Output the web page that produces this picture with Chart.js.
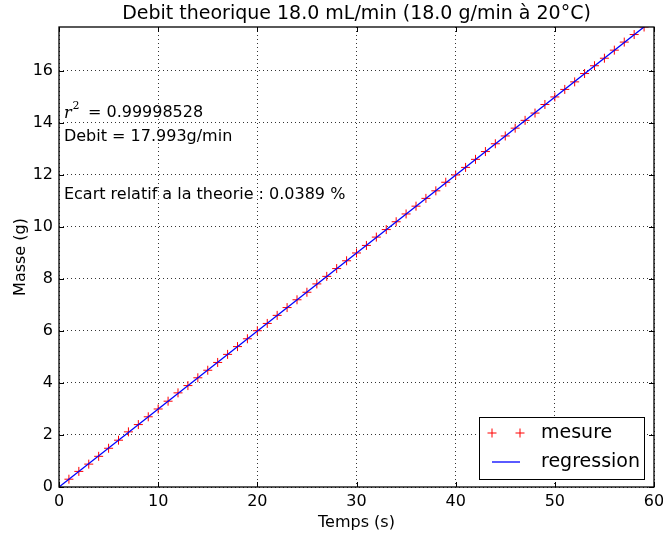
<!DOCTYPE html>
<html>
<head>
<meta charset="utf-8">
<script src="https://cdn.jsdelivr.net/npm/chart.js@4/dist/chart.umd.min.js"></script>
<style>
html,body{margin:0;padding:0;background:#fff;}
#wrap{width:663px;height:538px;}
</style>
</head>
<body>
<div id="wrap"><canvas id="c" width="663" height="538"></canvas></div>
<script>
// ---- data ----
const titleText = "Debit theorique 18.0 mL/min (18.0 g/min à 20°C)";
const xLabel = "Temps (s)";
const yLabel = "Masse (g)";
const times = [1,2,3,4,5,6,7,8,9,10,11,12,13,14,15,16,17,18,19,20,21,22,23,24,25,26,27,28,29,30,31,32,33,34,35,36,37,38,39,40,41,42,43,44,45,46,47,48,49,50,51,52,53,54,55,56,57,58,59];
const masses = [0.30,0.60,0.88,1.18,1.49,1.80,2.12,2.40,2.70,3.00,3.30,3.62,3.90,4.20,4.49,4.79,5.10,5.40,5.70,6.01,6.29,6.60,6.90,7.20,7.49,7.81,8.10,8.40,8.70,9.00,9.29,9.61,9.90,10.20,10.50,10.80,11.10,11.39,11.72,12.00,12.29,12.60,12.90,13.20,13.50,13.80,14.10,14.38,14.71,15.00,15.29,15.58,15.90,16.20,16.49,16.80,17.11,17.40,17.69];
const regTimes = [0, 60];
const regMasses = [0, 17.993];
const seriesNames = ["mesure", "regression"];
const xTicks = [0,10,20,30,40,50,60];
const yTicks = [0,2,4,6,8,10,12,14,16];
const xRange = [0, 60];
const yRange = [0, 17.69];
const r2Value = "= 0.99998528";
const debitText = "Debit = 17.993g/min";
const ecartText = "Ecart relatif a la theorie : 0.0389 %";
const annotX = 0.5;
const annotY = [14.40, 13.47, 11.23];

// ---- chart ----
Chart.defaults.font.family = "'DejaVu Sans', sans-serif";
Chart.defaults.color = "#000";

const mesurePts = times.map((t,i)=>({x:t, y:masses[i]}));
const regPts = regTimes.map((t,i)=>({x:t, y:regMasses[i]}));

const framePlugin = {
  id: 'frame',
  beforeDraw(chart){
    const ctx = chart.ctx;
    ctx.save(); ctx.fillStyle = '#fff'; ctx.fillRect(0,0,chart.width,chart.height); ctx.restore();
  },
  afterDatasetsDraw(chart){
    const ctx = chart.ctx, a = chart.chartArea;
    const xs = chart.scales.x, ys = chart.scales.y;
    ctx.save();
    // inward ticks
    ctx.strokeStyle = '#000'; ctx.lineWidth = 1;
    const L = 5;
    xTicks.forEach(v=>{
      const px = Math.round(xs.getPixelForValue(v)) + 0.5;
      ctx.beginPath();
      ctx.moveTo(px, a.bottom); ctx.lineTo(px, a.bottom - L);
      ctx.moveTo(px, a.top); ctx.lineTo(px, a.top + L);
      ctx.stroke();
    });
    yTicks.forEach(v=>{
      const py = Math.round(ys.getPixelForValue(v)) + 0.5;
      ctx.beginPath();
      ctx.moveTo(a.left, py); ctx.lineTo(a.left + L, py);
      ctx.moveTo(a.right, py); ctx.lineTo(a.right - L, py);
      ctx.stroke();
    });
    // frame
    ctx.lineWidth = 1.3;
    ctx.strokeRect(a.left, a.top, a.right - a.left, a.bottom - a.top);

    // annotations
    const ax = xs.getPixelForValue(annotX);
    ctx.fillStyle = '#000';
    ctx.textBaseline = 'middle';
    ctx.textAlign = 'left';
    let y0 = ys.getPixelForValue(annotY[0]);
    ctx.font = "italic 16px 'DejaVu Serif', serif";
    ctx.fillText("r", ax, y0 + 1);
    const rw = ctx.measureText("r").width;
    ctx.font = "11px 'DejaVu Serif', serif";
    ctx.fillText("2", ax + rw + 1, y0 - 6);
    ctx.font = "16px 'DejaVu Sans', sans-serif";
    ctx.fillText(r2Value, ax + 24, y0);
    ctx.fillText(debitText, ax, ys.getPixelForValue(annotY[1]));
    ctx.fillText(ecartText, ax, ys.getPixelForValue(annotY[2]));

    // legend
    const ds = chart.data.datasets;
    const bw = 165, bh = 62;
    const bx = a.right - 10 - bw, by = a.bottom - 8 - bh;
    ctx.fillStyle = '#fff';
    ctx.fillRect(bx, by, bw, bh);
    ctx.lineWidth = 1;
    ctx.strokeStyle = '#000';
    ctx.strokeRect(Math.round(bx)+0.5, Math.round(by)+0.5, bw, bh);
    const r1 = by + 16, r2 = by + 45;
    // mesure markers
    ctx.strokeStyle = ds[0].borderColor; ctx.lineWidth = 1;
    [bx + 13, bx + 41].forEach(mx=>{
      ctx.beginPath();
      ctx.moveTo(mx - 4.5, r1); ctx.lineTo(mx + 4.5, r1);
      ctx.moveTo(mx, r1 - 4.5); ctx.lineTo(mx, r1 + 4.5);
      ctx.stroke();
    });
    // regression line
    ctx.strokeStyle = ds[1].borderColor; ctx.lineWidth = ds[1].borderWidth;
    ctx.beginPath(); ctx.moveTo(bx + 13, r2); ctx.lineTo(bx + 41, r2); ctx.stroke();
    ctx.fillStyle = '#000';
    ctx.font = "19px 'DejaVu Sans', sans-serif";
    ctx.fillText(ds[0].label, bx + 62, r1);
    ctx.fillText(ds[1].label, bx + 62, r2);
    ctx.restore();
  }
};

new Chart(document.getElementById('c'), {
  type: 'scatter',
  data: {
    datasets: [
      {
        label: seriesNames[0],
        data: mesurePts,
        showLine: false,
        pointStyle: 'cross',
        pointRadius: 4.5,
        pointHoverRadius: 4.5,
        borderColor: '#ff0000',
        backgroundColor: '#ff0000',
        pointBorderWidth: 1,
        borderWidth: 1,
        order: 2,
        clip: 0
      },
      {
        label: seriesNames[1],
        data: regPts,
        showLine: true,
        pointRadius: 0,
        borderColor: '#0000ff',
        backgroundColor: '#0000ff',
        borderWidth: 1.3,
        order: 1,
        clip: 0
      }
    ]
  },
  options: {
    responsive: false,
    animation: false,
    events: [],
    layout: { padding: { left: 0, right: 9, top: 0, bottom: 0 } },
    plugins: {
      legend: { display: false },
      tooltip: { enabled: false },
      title: {
        display: true,
        text: titleText,
        fullSize: false,
        color: '#000',
        font: { size: 19, weight: 'normal' },
        padding: { top: 3, bottom: 1.2 }
      }
    },
    scales: {
      x: {
        type: 'linear',
        min: xRange[0], max: xRange[1],
        afterBuildTicks: s => { s.ticks = xTicks.map(v=>({value:v})); },
        afterFit: s => { s.height = 51; s.paddingLeft = 0; s.paddingRight = 0; },
        ticks: { font: { size: 16 }, color: '#000', padding: 5, maxRotation: 0, callback: v => String(v) },
        grid: { color: '#000', lineWidth: 0.8, drawTicks: false },
        border: { display: false, dash: [1, 3] },
        title: { display: true, text: xLabel, color: '#000', font: { size: 16 }, padding: { top: 0, bottom: 6 } }
      },
      y: {
        type: 'linear',
        min: yRange[0], max: yRange[1],
        afterBuildTicks: s => { s.ticks = yTicks.map(v=>({value:v})); },
        afterFit: s => { s.width = 59; s.paddingTop = 0; s.paddingBottom = 0; },
        ticks: { font: { size: 16 }, color: '#000', padding: 6, callback: v => String(v) },
        grid: { color: '#000', lineWidth: 0.8, drawTicks: false },
        border: { display: false, dash: [1, 3] },
        title: { display: true, text: yLabel, color: '#000', font: { size: 16 }, padding: { top: 11, bottom: 0 } }
      }
    }
  },
  plugins: [framePlugin]
});
</script>
</body>
</html>
